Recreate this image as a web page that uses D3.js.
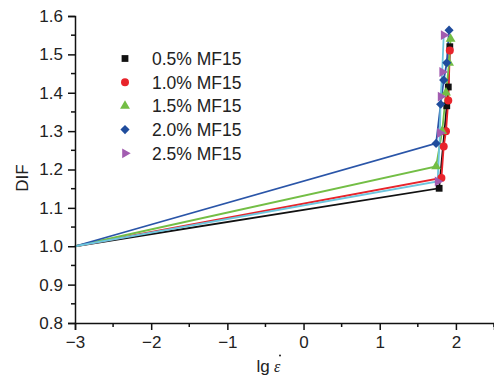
<!DOCTYPE html>
<html>
<head>
<meta charset="utf-8">
<script src="https://cdn.jsdelivr.net/npm/d3@7"></script>
<style>
  body { margin: 0; background: #fff; }
  text { font-family: "Liberation Sans", Arial, sans-serif; fill: #222; }
</style>
</head>
<body>
<div id="chart"></div>
<script>
// series names (legend)
var seriesNames = ["0.5% MF15", "1.0% MF15", "1.5% MF15", "2.0% MF15", "2.5% MF15"];

// lg(strain rate) values, one list per series
var xBlack  = [-3, 1.78, 1.85, 1.88, 1.90, 1.92];
var xRed    = [-3, 1.81, 1.84, 1.87, 1.90, 1.92];
var xGreen  = [-3, 1.74, 1.82, 1.87, 1.91, 1.93];
var xBlue   = [-3, 1.74, 1.80, 1.84, 1.88, 1.91];
var xPurple = [-3, 1.76, 1.79, 1.80, 1.82, 1.84];

// DIF values
var yBlack  = [1.0, 1.151, 1.30, 1.366, 1.415, 1.52];
var yRed    = [1.0, 1.178, 1.26, 1.30, 1.38, 1.51];
var yGreen  = [1.0, 1.208, 1.30, 1.40, 1.478, 1.54];
var yBlue   = [1.0, 1.268, 1.37, 1.433, 1.478, 1.563];
var yPurple = [1.0, 1.169, 1.295, 1.39, 1.454, 1.55];

var xTicks = [-3, -2, -1, 0, 1, 2];
var yTicks = [0.8, 0.9, 1.0, 1.1, 1.2, 1.3, 1.4, 1.5, 1.6];

var markColors = ["#111111", "#e8242b", "#73be45", "#1f4c9c", "#a25cb0"];
var lineColors = ["#111111", "#e8242b", "#73be45", "#2a55a8", "#6cc5de"];
var symbols = ["square", "circle", "triangle", "diamond", "right"];

var xs = [xBlack, xRed, xGreen, xBlue, xPurple];
var ys = [yBlack, yRed, yGreen, yBlue, yPurple];

var series = seriesNames.map(function(name, i) {
  return {
    name: name,
    points: xs[i].map(function(x, j) { return {x: x, y: ys[i][j]}; }),
    mark: markColors[i],
    line: lineColors[i],
    sym: symbols[i]
  };
});

var width = 494, height = 384;
var svg = d3.select("#chart").append("svg")
  .attr("width", width)
  .attr("height", height);

var x = d3.scaleLinear().domain([-3, 2.5]).range([75, 494]);
var y = d3.scaleLinear().domain([0.8, 1.6]).range([323, 16]);

function symPath(s) {
  if (s == "square") return d3.symbol().type(d3.symbolSquare).size(46)();
  if (s == "circle") return d3.symbol().type(d3.symbolCircle).size(50)();
  if (s == "triangle") return d3.symbol().type(d3.symbolTriangle).size(42)();
  if (s == "diamond") return d3.symbol().type(d3.symbolSquare).size(42)();
  return d3.symbol().type(d3.symbolTriangle).size(42)();
}
function symRot(s) {
  if (s == "right") return " rotate(90)";
  if (s == "diamond") return " rotate(45)";
  return "";
}

// lines
var line = d3.line()
  .x(function(d) { return x(d.x); })
  .y(function(d) { return y(d.y); });

svg.selectAll("path.series")
  .data(series)
  .enter().append("path")
  .attr("class", "series")
  .attr("d", function(d) { return line(d.points); })
  .attr("fill", "none")
  .attr("stroke", function(d) { return d.line; })
  .attr("stroke-width", 1.8);

// markers (skip the common origin point)
series.forEach(function(s) {
  svg.selectAll(null)
    .data(s.points.slice(1))
    .enter().append("path")
    .attr("d", symPath(s.sym))
    .attr("transform", function(d) { return "translate(" + x(d.x) + "," + y(d.y) + ")" + symRot(s.sym); })
    .attr("fill", s.mark);
});

// axes
var xAxis = svg.append("g")
  .attr("transform", "translate(0," + y(0.8) + ")")
  .call(d3.axisBottom(x).tickValues(xTicks).tickSize(7).tickPadding(6)
    .tickFormat(function(d) { return d < 0 ? "\u2212" + Math.abs(d) : d; }));
xAxis.append("g").selectAll("line")
  .data(d3.range(-2.5, 2.6, 1))
  .enter().append("line")
  .attr("x1", function(d) { return x(d); })
  .attr("x2", function(d) { return x(d); })
  .attr("y1", 0).attr("y2", 4)
  .attr("stroke", "#111").attr("stroke-width", 1.5);

var yAxis = svg.append("g")
  .attr("transform", "translate(" + x(-3) + ",0)")
  .call(d3.axisLeft(y).tickValues(yTicks).tickSize(7).tickPadding(5)
    .tickFormat(d3.format(".1f")));
yAxis.append("g").selectAll("line")
  .data(d3.range(0.85, 1.6, 0.1))
  .enter().append("line")
  .attr("y1", function(d) { return y(d); })
  .attr("y2", function(d) { return y(d); })
  .attr("x1", 0).attr("x2", -4)
  .attr("stroke", "#111").attr("stroke-width", 1.5);

svg.selectAll(".domain").attr("stroke", "#111").attr("stroke-width", 1.5);
svg.selectAll(".tick line").attr("stroke", "#111").attr("stroke-width", 1.5);
svg.selectAll(".tick text")
  .style("font-size", "17px")
  .style("font-family", "Liberation Sans, Arial, sans-serif")
  .attr("fill", "#222");

// axis titles
svg.append("text")
  .attr("transform", "translate(28,178) rotate(-90)")
  .style("text-anchor", "middle")
  .style("font-size", "17px")
  .text("DIF");

svg.append("text")
  .attr("x", 256.5)
  .attr("y", 372)
  .style("font-size", "17px")
  .text("lg");
svg.append("text")
  .attr("x", 274)
  .attr("y", 372)
  .style("font-size", "16px")
  .style("font-style", "italic")
  .style("font-family", "Liberation Serif, serif")
  .text("\u03b5");
svg.append("circle")
  .attr("cx", 280)
  .attr("cy", 355.5)
  .attr("r", 1)
  .attr("fill", "#222");

// legend
var legend = svg.selectAll("g.legend")
  .data(series)
  .enter().append("g")
  .attr("class", "legend")
  .attr("transform", function(d, i) { return "translate(125," + (58.5 + i * 23.7) + ")"; });

legend.append("path")
  .attr("d", function(d) { return symPath(d.sym); })
  .attr("transform", function(d) { return symRot(d.sym).trim(); })
  .attr("fill", function(d) { return d.mark; });

legend.append("text")
  .attr("x", 27)
  .attr("y", 6.5)
  .style("font-size", "17.5px")
  .text(function(d) { return d.name; });
</script>
</body>
</html>
